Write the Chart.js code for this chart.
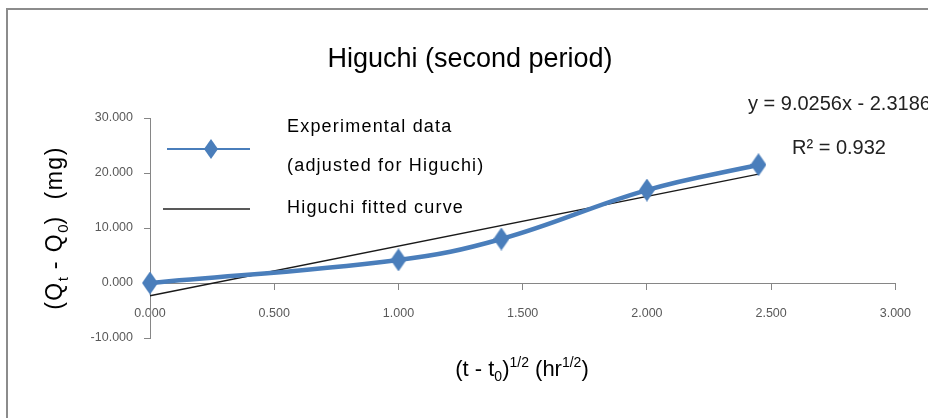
<!DOCTYPE html>
<html>
<head>
<meta charset="utf-8">
<script src="https://cdn.jsdelivr.net/npm/chart.js@4/dist/chart.umd.min.js"></script>
<style>
  html, body { margin: 0; padding: 0; background: #fff; }
  canvas { display: block; }
</style>
</head>
<body>
<canvas id="higuchiChart" width="928" height="418"></canvas>
<script>
// Higuchi plot, second period: released amount vs square root of time
const sqrtTime = [0, 1, 1.414, 2, 2.449];        // (t - t0)^1/2, hr^1/2
const releasedMg = [0, 4.2, 8.0, 16.9, 21.5];    // Qt - Q0, mg
const fitSlope = 9.0256;
const fitIntercept = -2.3186;
const fitR2 = 0.932;

const xRange = [0, 3, 0.5];
const yRange = [-10, 30, 10];

const BLUE = '#4a7ebb';
const AXIS = '#868686';
const TICK_TEXT = '#595959';
const FONT = '"Liberation Sans", Arial, sans-serif';

const experimental = sqrtTime.map((x, i) => ({ x: x, y: releasedMg[i] }));
const fitEnds = [sqrtTime[0], sqrtTime[sqrtTime.length - 1]];
const fitted = fitEnds.map(x => ({ x: x, y: fitSlope * x + fitIntercept }));

// tall diamond marker
function diamond(w, h, color) {
  const c = document.createElement('canvas');
  c.width = w; c.height = h;
  const g = c.getContext('2d');
  g.fillStyle = color;
  g.beginPath();
  g.moveTo(w / 2, 0);
  g.lineTo(w, h / 2);
  g.lineTo(w / 2, h);
  g.lineTo(0, h / 2);
  g.closePath();
  g.fill();
  return c;
}
const marker = diamond(16, 23, BLUE);

// draw a run of text pieces (for sub/superscripts)
function richText(ctx, parts, x, y, align) {
  let total = 0;
  parts.forEach(p => {
    ctx.font = p.size + 'px ' + FONT;
    p.w = ctx.measureText(p.t).width + (p.sp || 0) * p.t.length;
    total += p.w;
  });
  let cx = align === 'center' ? x - total / 2 : x;
  parts.forEach(p => {
    ctx.font = p.size + 'px ' + FONT;
    ctx.letterSpacing = (p.sp || 0) + 'px';
    ctx.fillText(p.t, cx, y + (p.dy || 0));
    cx += p.w;
  });
  ctx.letterSpacing = '0px';
}

const decorations = {
  id: 'decorations',
  beforeDraw(chart) {
    const ctx = chart.ctx;
    ctx.save();
    // frame
    ctx.strokeStyle = '#8c8c8c';
    ctx.lineWidth = 2;
    ctx.beginPath();
    ctx.moveTo(7, 418);
    ctx.lineTo(7, 9);
    ctx.lineTo(928, 9);
    ctx.stroke();
    ctx.restore();
  },
  afterDraw(chart) {
    const ctx = chart.ctx;
    ctx.save();
    ctx.fillStyle = '#000';
    ctx.textBaseline = 'alphabetic';
    ctx.textAlign = 'left';

    // title
    richText(ctx, [{ t: 'Higuchi (second period)', size: 27 }], 470, 67, 'center');

    // trendline equation
    ctx.fillStyle = '#222';
    richText(ctx, [{ t: 'y = ' + fitSlope + 'x - ' + Math.abs(fitIntercept), size: 20 }], 748, 110, 'left');
    richText(ctx, [{ t: 'R', size: 20 }, { t: '²', size: 20 }, { t: ' = ' + fitR2, size: 20 }], 792, 154, 'left');

    // legend
    ctx.strokeStyle = BLUE;
    ctx.lineWidth = 2;
    ctx.beginPath();
    ctx.moveTo(167, 149);
    ctx.lineTo(250, 149);
    ctx.stroke();
    ctx.drawImage(diamond(14, 20, BLUE), 204, 139);
    ctx.strokeStyle = '#222';
    ctx.lineWidth = 1.3;
    ctx.beginPath();
    ctx.moveTo(163, 209);
    ctx.lineTo(250, 209);
    ctx.stroke();
    ctx.fillStyle = '#000';
    richText(ctx, [{ t: 'Experimental data', size: 18, sp: 1.2 }], 287, 132, 'left');
    richText(ctx, [{ t: '(adjusted for Higuchi)', size: 18, sp: 1.2 }], 287, 171, 'left');
    richText(ctx, [{ t: 'Higuchi fitted curve', size: 18, sp: 1.2 }], 287, 213, 'left');

    // x axis title
    richText(ctx, [
      { t: '(t - t', size: 22 },
      { t: '0', size: 14, dy: 5 },
      { t: ')', size: 22 },
      { t: '1/2', size: 14, dy: -9 },
      { t: ' (hr', size: 22 },
      { t: '1/2', size: 14, dy: -9 },
      { t: ')', size: 22 }
    ], 522, 376, 'center');

    // y axis title, rotated
    ctx.translate(62, 228);
    ctx.rotate(-Math.PI / 2);
    richText(ctx, [
      { t: '(Q', size: 23, sp: 1.5 },
      { t: 't', size: 15, dy: 6 },
      { t: ' - Q', size: 23, sp: 1.5 },
      { t: '0', size: 15, dy: 6 },
      { t: ')  (mg)', size: 23, sp: 1.5 }
    ], 0, 0, 'center');
    ctx.restore();
  }
};

new Chart(document.getElementById('higuchiChart'), {
  type: 'scatter',
  data: {
    datasets: [
      {
        label: 'Experimental data (adjusted for Higuchi)',
        data: experimental,
        showLine: true,
        clip: false,
        borderColor: BLUE,
        backgroundColor: BLUE,
        borderWidth: 4.5,
        tension: 0.4,
        cubicInterpolationMode: 'default',
        pointStyle: marker,
        pointRadius: 10
      },
      {
        label: 'Higuchi fitted curve',
        data: fitted,
        showLine: true,
        clip: false,
        borderColor: '#1a1a1a',
        borderWidth: 1.3,
        pointRadius: 0,
        tension: 0
      }
    ]
  },
  options: {
    responsive: false,
    animation: false,
    layout: { padding: { top: 118, right: 32, left: 0, bottom: 80 } },
    plugins: {
      legend: { display: false },
      title: { display: false },
      tooltip: { enabled: false }
    },
    scales: {
      x: {
        type: 'linear',
        position: { y: 0 },
        min: xRange[0],
        max: xRange[1],
        border: { color: AXIS, width: 1 },
        grid: { drawOnChartArea: false, color: AXIS, tickLength: 6 },
        ticks: {
          stepSize: xRange[2],
          color: TICK_TEXT,
          padding: 17,
          maxRotation: 0,
          font: { family: FONT, size: 12.5 },
          callback: v => v.toFixed(3)
        },
        afterFit(scale) { scale.height = 81; }
      },
      y: {
        min: yRange[0],
        max: yRange[1],
        border: { color: AXIS, width: 1 },
        grid: { drawOnChartArea: false, color: AXIS, tickLength: 6 },
        ticks: {
          stepSize: yRange[2],
          color: TICK_TEXT,
          padding: 11,
          font: { family: FONT, size: 12.5 },
          callback: v => v.toFixed(3)
        },
        afterFit(scale) { scale.width = 150; }
      }
    }
  },
  plugins: [decorations]
});
</script>
</body>
</html>
